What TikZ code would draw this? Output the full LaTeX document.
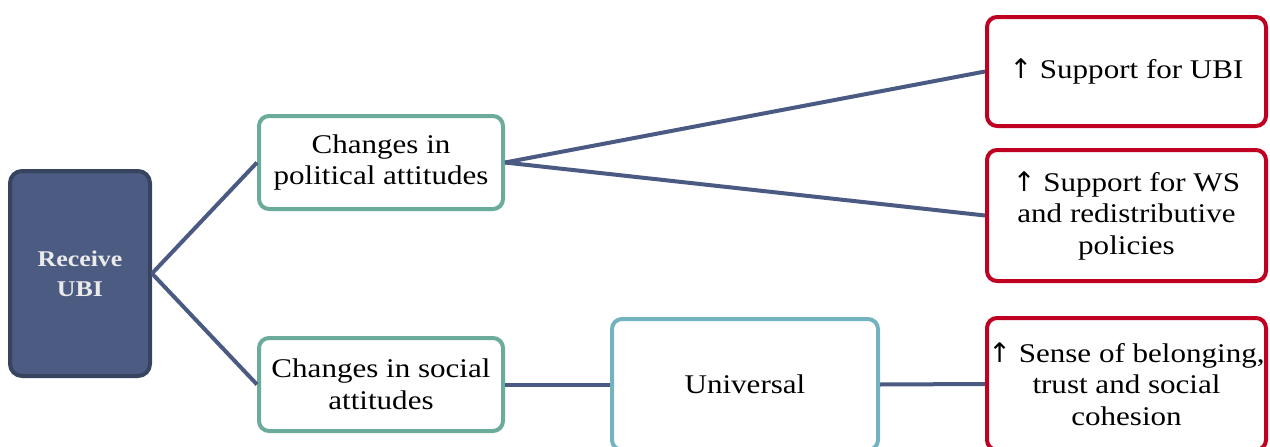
\documentclass[tikz,border=0pt]{standalone}
\usepackage{fontspec}
\setmainfont{Liberation Serif}[FakeStretch=1.15]
\newfontfamily\arrowfont{DejaVu Sans}
\newcommand{\uparr}{{\arrowfont ↑}}
\definecolor{lineblue}{HTML}{4A5A82}
\definecolor{ubifill}{HTML}{4B5B82}
\definecolor{ubiborder}{HTML}{36445F}
\definecolor{tealc}{HTML}{6AAB9B}
\definecolor{lblue}{HTML}{72B3BF}
\definecolor{redc}{HTML}{C00020}
\definecolor{ubitext}{HTML}{EAEAEA}
\begin{document}
\begin{tikzpicture}[x=1pt,y=1pt,
  box/.style={draw, line width=4pt, rounded corners=10pt, fill=white, align=center,
    font=\fontsize{27}{31.5}\selectfont, inner sep=0pt},
  midbox/.style={box, draw=tealc, minimum width=244pt, minimum height=93pt},
  univbox/.style={box, draw=lblue, minimum width=266pt, minimum height=131pt},
  outbox/.style={box, draw=redc, minimum width=279pt},
  ubibox/.style={draw=ubiborder, fill=ubifill, line width=4pt, rounded corners=12pt,
    minimum width=140pt, minimum height=205pt, align=center, text=ubitext,
    font=\fontsize{22.5}{30}\selectfont\bfseries},
  conn/.style={draw=lineblue, line width=4pt}]
\useasboundingbox (0,0) rectangle (1270,-447);
\clip (0,0) rectangle (1270,-447);
\node[ubibox] (ubi) at (80,-273.5) {Receive\\UBI};
\node[midbox] (pol) at (381,-162.5) {Changes in\\political attitudes};
\node[midbox] (soc) at (381,-384.5) {Changes in social\\attitudes};
\node[univbox] (uni) at (745,-384.5) {Universal};
\node[outbox, minimum height=109pt] (o1) at (1126.5,-71.5) {\uparr\ Support for UBI};
\node[outbox, minimum height=131pt] (o2) at (1126.5,-215.5) {\uparr\ Support for WS\\and redistributive\\policies};
\node[outbox, minimum height=132pt] (o3) at (1126.5,-384) {\uparr\ Sense of belonging,\\trust and social\\cohesion};
\draw[conn] (ubi.east) -- (pol.west);
\draw[conn] (ubi.east) -- (soc.west);
\draw[conn] (pol.east) -- (o1.west);
\draw[conn] (pol.east) -- (o2.west);
\draw[conn] (soc.east) -- (uni.west);
\draw[conn] (uni.east) -- (o3.west);
\end{tikzpicture}
\end{document}
